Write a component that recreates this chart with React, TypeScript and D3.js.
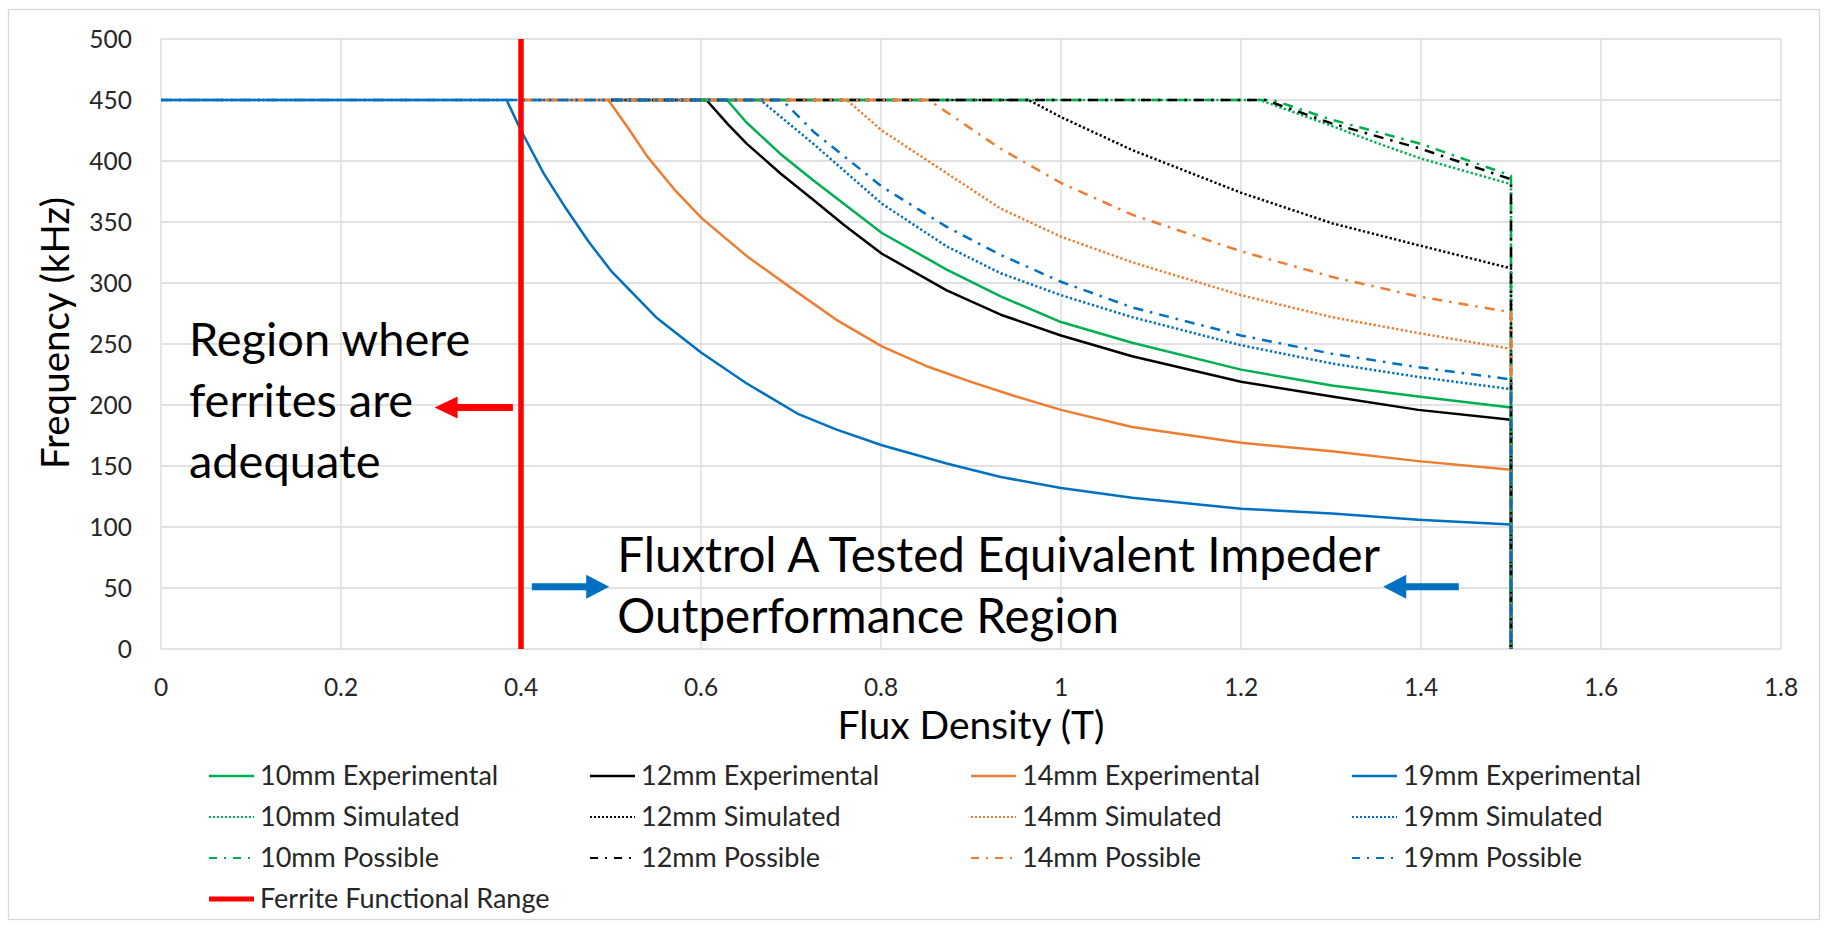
import * as d3 from "d3";

type Pt = [number, number];
type LineStyle = "solid" | "dot" | "dashdot";

const xTicks = [0, 0.2, 0.4, 0.6, 0.8, 1, 1.2, 1.4, 1.6, 1.8];
const yTicks = [0, 50, 100, 150, 200, 250, 300, 350, 400, 450, 500];

// flux density (T), frequency (kHz)
const exp10: Pt[] = [[0.6, 450], [0.629, 450], [0.65, 432], [0.688, 406], [0.725, 384], [0.801, 341], [0.873, 311], [0.933, 289], [1.0, 268], [1.079, 251], [1.2, 229], [1.301, 216], [1.397, 207], [1.5, 198], [1.5, 0]];
const exp12: Pt[] = [[0.5, 450], [0.606, 450], [0.63, 430], [0.651, 414], [0.688, 390], [0.725, 368], [0.76, 347], [0.801, 324], [0.873, 294], [0.933, 274], [1.0, 257], [1.079, 240], [1.2, 219], [1.301, 207], [1.397, 196], [1.5, 188], [1.5, 0]];
const exp14: Pt[] = [[0.4, 450], [0.497, 450], [0.52, 426], [0.54, 404], [0.57, 377], [0.601, 353], [0.651, 322], [0.7, 296], [0.75, 270], [0.801, 248], [0.85, 232], [0.9, 219], [0.95, 207], [1.0, 196], [1.079, 182], [1.2, 169], [1.301, 162], [1.397, 154], [1.5, 147], [1.5, 0]];
const exp19: Pt[] = [[0, 450], [0.384, 450], [0.4, 425], [0.425, 390], [0.45, 361], [0.475, 334], [0.5, 310], [0.55, 272], [0.6, 243], [0.65, 218], [0.707, 193], [0.75, 180], [0.801, 167], [0.873, 152], [0.933, 141], [1.0, 132], [1.079, 124], [1.2, 115], [1.301, 111], [1.397, 106], [1.5, 102], [1.5, 0]];

const sim10: Pt[] = [[0.6, 450], [1.221, 450], [1.3, 429], [1.354, 414], [1.4, 402], [1.5, 381], [1.5, 0]];
const sim12: Pt[] = [[0.5, 450], [0.964, 450], [1.0, 436], [1.079, 409], [1.2, 374], [1.301, 349], [1.397, 331], [1.5, 312], [1.5, 0]];
const sim14: Pt[] = [[0.4, 450], [0.762, 450], [0.801, 425], [0.873, 390], [0.933, 361], [1.0, 338], [1.079, 317], [1.2, 290], [1.301, 272], [1.397, 259], [1.5, 246], [1.5, 0]];
const sim19: Pt[] = [[0, 450], [0.666, 450], [0.725, 414], [0.801, 365], [0.873, 330], [0.933, 308], [1.0, 290], [1.079, 272], [1.2, 249], [1.301, 234], [1.397, 223], [1.5, 213], [1.5, 0]];

const pos10: Pt[] = [[0.6, 450], [1.235, 450], [1.3, 434], [1.4, 414], [1.5, 388], [1.5, 0]];
const pos12: Pt[] = [[0.5, 450], [1.227, 450], [1.3, 431], [1.4, 410], [1.5, 385], [1.5, 0]];
const pos14: Pt[] = [[0.4, 450], [0.853, 450], [0.933, 410], [1.0, 382], [1.079, 356], [1.2, 326], [1.301, 305], [1.397, 289], [1.5, 276], [1.5, 0]];
const pos19: Pt[] = [[0, 450], [0.69, 450], [0.725, 424], [0.801, 379], [0.873, 346], [0.933, 323], [1.0, 301], [1.079, 280], [1.2, 257], [1.301, 242], [1.397, 231], [1.5, 221], [1.5, 0]];

const ferrite: Pt[] = [[0.4, 0], [0.4, 500]];

const GREEN = "#00B050";
const BLACK = "#000000";
const ORANGE = "#ED7D31";
const BLUE = "#0070C0";
const RED = "#FF0000";

const series: { label: string; data: Pt[]; color: string; style: LineStyle }[] = [
    { label: "10mm Experimental", data: exp10, color: GREEN, style: "solid" },
    { label: "12mm Experimental", data: exp12, color: BLACK, style: "solid" },
    { label: "14mm Experimental", data: exp14, color: ORANGE, style: "solid" },
    { label: "19mm Experimental", data: exp19, color: BLUE, style: "solid" },
    { label: "10mm Simulated", data: sim10, color: GREEN, style: "dot" },
    { label: "12mm Simulated", data: sim12, color: BLACK, style: "dot" },
    { label: "14mm Simulated", data: sim14, color: ORANGE, style: "dot" },
    { label: "19mm Simulated", data: sim19, color: BLUE, style: "dot" },
    { label: "10mm Possible", data: pos10, color: GREEN, style: "dashdot" },
    { label: "12mm Possible", data: pos12, color: BLACK, style: "dashdot" },
    { label: "14mm Possible", data: pos14, color: ORANGE, style: "dashdot" },
    { label: "19mm Possible", data: pos19, color: BLUE, style: "dashdot" },
];

const regionLines = ["Region where", "ferrites are", "adequate"];
const fluxtrolLines = ["Fluxtrol A Tested Equivalent Impeder", "Outperformance Region"];

const FONT = "Lato, 'Open Sans', sans-serif";

const dashOf = (s: LineStyle) =>
    s === "dot" ? "2.3 2.3" : s === "dashdot" ? "10 7 2.5 7" : undefined;

// horizontal block arrow, tip at x2
function arrowPath(x1: number, x2: number, y: number, shaft: number, headLen: number, headHalf: number) {
    const dir = x2 > x1 ? 1 : -1;
    const hb = x2 - dir * headLen;
    return `M${x1},${y - shaft / 2}L${hb},${y - shaft / 2}L${hb},${y - headHalf}L${x2},${y}L${hb},${y + headHalf}L${hb},${y + shaft / 2}L${x1},${y + shaft / 2}Z`;
}

export default function App() {
    const width = 1830;
    const height = 930;
    const plot = { left: 161, right: 1781, top: 39, bottom: 649 };

    const x = d3.scaleLinear().domain([0, 1.8]).range([plot.left, plot.right]);
    const y = d3.scaleLinear().domain([0, 500]).range([plot.bottom, plot.top]);

    const line = d3
        .line<Pt>()
        .x((d) => x(d[0]))
        .y((d) => y(d[1]));

    const legendCols = [209, 590, 971, 1352];
    const legendRows = [776, 817, 858, 899];
    const legendItems = [
        ...series.map((s) => ({ label: s.label, color: s.color, style: s.style, w: 2.5 })),
        { label: "Ferrite Functional Range", color: RED, style: "solid" as LineStyle, w: 5 },
    ];

    return (
        <div>
            <style>{"body{margin:0}"}</style>
            <svg width={width} height={height} viewBox={`0 0 ${width} ${height}`} style={{ display: "block", background: "#fff" }}>
                <rect x={8.5} y={9.5} width={1811} height={910} fill="#fff" stroke="#D9D9D9" strokeWidth={1.3} />

                {/* grid */}
                {yTicks.map((t) => (
                    <line key={`gy${t}`} x1={plot.left} x2={plot.right} y1={y(t)} y2={y(t)} stroke="#D9D9D9" strokeWidth={1.3} />
                ))}
                {xTicks.map((t) => (
                    <line key={`gx${t}`} x1={x(t)} x2={x(t)} y1={plot.top} y2={plot.bottom} stroke="#D9D9D9" strokeWidth={1.3} />
                ))}

                {/* tick labels */}
                {yTicks.map((t) => (
                    <text key={`ty${t}`} x={plot.left - 29} y={y(t)} dy="0.35em" textAnchor="end" fontFamily={FONT} fontSize={24.5} fill="#262626">
                        {t}
                    </text>
                ))}
                {xTicks.map((t) => (
                    <text key={`tx${t}`} x={x(t)} y={687} dy="0.35em" textAnchor="middle" fontFamily={FONT} fontSize={24.5} fill="#262626">
                        {t}
                    </text>
                ))}

                {/* axis titles */}
                <text x={(plot.left + plot.right) / 2} y={725} dy="0.35em" textAnchor="middle" fontFamily={FONT} fontSize={39} fill="#000">
                    Flux Density (T)
                </text>
                <text
                    transform={`translate(56,333) rotate(-90)`}
                    dy="0.35em"
                    textAnchor="middle"
                    fontFamily={FONT}
                    fontSize={38.5}
                    fill="#000"
                >
                    Frequency (kHz)
                </text>

                {/* series */}
                {series.map((s) => (
                    <path
                        key={s.label}
                        d={line(s.data) ?? ""}
                        fill="none"
                        stroke={s.color}
                        strokeWidth={2.5}
                        strokeDasharray={dashOf(s.style)}
                        strokeLinejoin="round"
                    />
                ))}
                <path d={line(ferrite) ?? ""} fill="none" stroke={RED} strokeWidth={5.5} />

                {/* annotations */}
                {regionLines.map((t, i) => (
                    <text key={t} x={x(0.031)} y={y(240 - i * 50)} fontFamily={FONT} fontSize={47} fill="#000">
                        {t}
                    </text>
                ))}
                <path d={arrowPath(x(0.391), x(0.304), y(198), 7, 23, 11)} fill={RED} />

                {fluxtrolLines.map((t, i) => (
                    <text key={t} x={x(0.507)} y={y(63 - i * 50)} fontFamily={FONT} fontSize={47.5} fill="#000">
                        {t}
                    </text>
                ))}
                <path d={arrowPath(x(0.412), x(0.498), y(51), 7, 23, 12)} fill={BLUE} />
                <path d={arrowPath(x(1.442), x(1.358), y(51), 7, 23, 12)} fill={BLUE} />

                {/* legend */}
                {legendItems.map((it, i) => {
                    const lx = legendCols[i % 4];
                    const ly = legendRows[Math.floor(i / 4)];
                    return (
                        <g key={it.label}>
                            <line
                                x1={lx}
                                x2={lx + 45}
                                y1={ly}
                                y2={ly}
                                stroke={it.color}
                                strokeWidth={it.style === "solid" ? it.w : 2}
                                strokeDasharray={it.style === "dot" ? "2 2" : it.style === "dashdot" ? "8 7 2 7" : undefined}
                            />
                            <text x={lx + 51} y={ly} dy="0.35em" fontFamily={FONT} fontSize={27} fill="#262626">
                                {it.label}
                            </text>
                        </g>
                    );
                })}
            </svg>
        </div>
    );
}
